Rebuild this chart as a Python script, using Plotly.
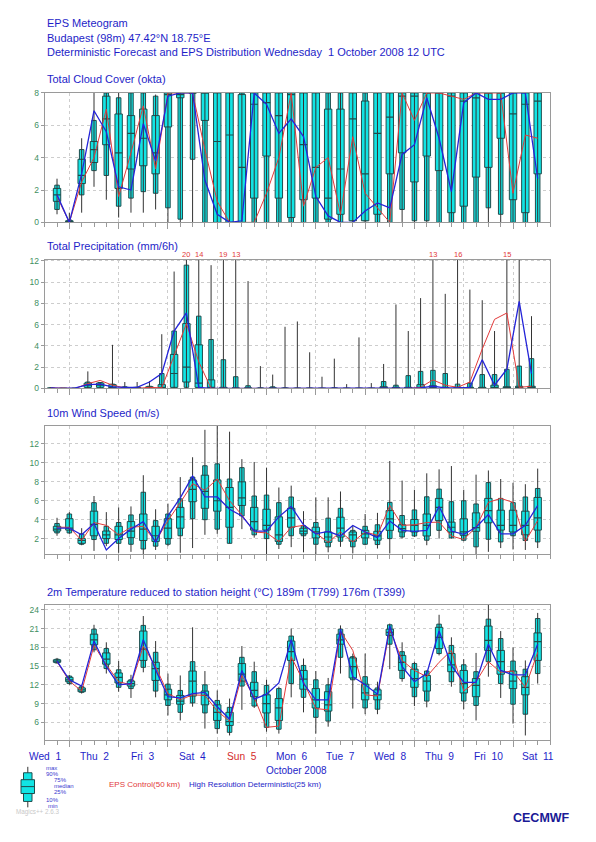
import numpy as np
import plotly.graph_objects as go

# figure fills the whole 596x842 page; body margin is removed after plotting
PAGE_W, PAGE_H = 596, 842
OX, OY = 0, 0
FW, FH = PAGE_W - 2 * OX, PAGE_H - 2 * OY

# ---------------- data ----------------
lead_h = [6 * k for k in range(1, 41)]          # hours after Wed 1 12 UTC
prec_h = [6 * k - 3 for k in range(1, 41)]      # centre of 6h accumulation

day_labels = ["Wed  1", "Thu  2", "Fri  3", "Sat  4", "Sun  5", "Mon  6",
              "Tue  7", "Wed  8", "Thu  9", "Fri  10", "Sat  11"]
day_hours = [24 * k for k in range(11)]
day_bounds = [12 + 24 * k for k in range(10)]

# Total cloud cover (okta)
cloud_min = [0.5, 0, 0.6, 2.2, 1.4, 0.3, 0.6, 0.6, 0.8, 0] + [0] * 30
cloud_p10 = [0.8, 0, 1.7, 3.2, 2.9, 1.0, 1.5, 1.9, 1.8, 0.9, 0.2, 3.9, 0, 0, 0, 0, 0, 0, 0, 0,
             0, 0, 0, 0, 0.1, 0.1, 0, 0, 0.8, 0.1, 0.1, 0, 0, 0, 0, 0.9, 0.5, 0, 0, 0]
cloud_p25 = [1.3, 0, 2.4, 3.7, 4.8, 2.1, 3.3, 3.5, 3.0, 5.9, 7.7, 8, 6.3, 0, 0, 0, 1.5, 4.1, 1.5, 0.3,
             1.4, 1.5, 0.2, 0.5, 0.1, 0.1, 0.5, 3.0, 4.3, 2.5, 4.1, 3.2, 0.6, 1.0, 2.8, 3.4, 5.2, 1.4, 0.6, 3.0]
cloud_med = [1.7, 0.05, 2.9, 4.5, 6.4, 4.3, 5.5, 5.2, 4.3, 7.9, 7.9, 8, 8, 5.0, 5.4, 3.4, 7.3, 7.4, 6.6, 7.9,
             4.8, 3.4, 1.5, 3.3, 6.4, 3.0, 5.5, 6.5, 7.8, 7.8, 8, 8, 7.8, 7.5, 7.7, 8, 8, 6.7, 7.3, 7.5]
cloud_p75 = [2.1, 0.1, 3.9, 5.0, 7.8, 6.7, 6.6, 7.0, 6.6, 8, 8, 8, 8, 8, 8, 7.9, 8, 8, 8, 8,
             8, 8, 7.0, 7.0, 8, 7.5, 8, 8, 8, 8, 8, 8, 8, 8, 8, 8, 8, 8, 8, 8]
cloud_p90 = [2.3, 0.15, 4.5, 6.3, 8, 7.7, 8, 8, 7.8] + [8] * 31
cloud_max = [2.7, 0.6, 5.2, 8, 8, 8, 8, 8, 7.9] + [8] * 31
cloud_det = [1.7, 0, 3.0, 6.9, 5.6, 2.2, 2.0, 6.1, 3.8, 7.8, 8, 8, 2.6, 0.5, 0, 0.1, 8, 7.3, 5.5, 6.4,
             5.3, 1.6, 0.4, 0, 0, 0.7, 1.2, 0.9, 4.2, 4.8, 7.7, 5.2, 1.9, 7.4, 8, 7.6, 7.6, 8, 8, 2.7]
cloud_ctl = [1.6, 0, 2.5, 4.0, 7.0, 1.6, 4.3, 7.2, 3.3, 8, 8, 8, 4.5, 1.3, 0, 0, 0, 1.8, 4.0, 8,
             1.0, 3.4, 4.0, 0.5, 5.3, 1.8, 0.9, 0, 8, 6.3, 8, 8, 7.8, 7.6, 8, 8, 8, 1.8, 5.4, 5.2]

# Total precipitation (mm/6h)
prec_min = [0] * 40
prec_p10 = [0] * 11 + [0.1] + [0] * 28
prec_p25 = [0, 0, 0, 0.1, 0.1, 0.05, 0, 0, 0, 0.05, 0.1, 0.6, 0.1, 0, 0, 0, 0, 0, 0, 0,
            0, 0, 0, 0, 0, 0, 0, 0.05, 0, 0, 0.05, 0.1, 0, 0, 0, 0, 0.05, 0.05, 0.05, 0.05]
prec_med = [0, 0, 0, 0.3, 0.3, 0.1, 0.05, 0.05, 0.1, 0.1, 1.4, 2.0, 0.5, 0.1, 0, 0, 0, 0, 0, 0,
            0, 0, 0, 0, 0, 0, 0, 0.1, 0.05, 0.05, 0.1, 0.15, 0.05, 0.05, 0.05, 0.05, 0.1, 0.1, 0.1, 0.1]
prec_p75 = [0.02, 0, 0, 0.5, 0.5, 0.35, 0.1, 0.1, 0.15, 0.35, 3.2, 6.1, 4.1, 0.8, 0.1, 0.05, 0.05, 0, 0.05, 0,
            0, 0, 0, 0, 0, 0, 0, 0.15, 0.1, 0.1, 0.35, 0.25, 0.1, 0.1, 0.1, 0.1, 0.3, 0.15, 0.2, 0.2]
prec_p90 = [0.05, 0, 0, 0.6, 0.55, 0.4, 0.15, 0.1, 0.2, 1.4, 5.4, 11.6, 6.8, 4.6, 2.7, 1.1, 0.25, 0.05, 0.15, 0.05,
            0.02, 0.02, 0, 0.05, 0, 0, 0, 0.65, 0.3, 1.2, 1.6, 1.7, 1.4, 0.4, 0.5, 1.3, 1.3, 1.8, 2.1, 2.8]
prec_max = [0.1, 0, 0.05, 1.6, 0.6, 4.1, 0.6, 0.6, 0.7, 5.1, 11.0, 20, 14, 11.6, 19, 13, 10.1, 2.1, 1.3, 5.8,
            6.3, 3.4, 1.1, 2.8, 0.4, 4.8, 0.5, 2.3, 7.9, 5.4, 8.5, 13, 8.9, 16, 9.3, 8.3, 5.4, 15, 12.1, 6.8]
prec_det = [0.05, 0, 0.05, 0.35, 0.4, 0.15, 0.1, 0.1, 0.6, 1.4, 5.4, 7.1, 0.1, 0, 0, 0, 0, 0, 0, 0,
            0, 0, 0, 0, 0, 0, 0, 0, 0, 0, 0.05, 0.2, 0.05, 0.05, 0.1, 2.7, 0.3, 1.8, 8.2, 1.4]
prec_ctl = [0.05, 0, 0, 0.45, 0.75, 0.3, 0.05, 0, 0.1, 0.05, 3.0, 6.1, 2.5, 0, 0, 0, 0, 0, 0, 0,
            0, 0, 0, 0, 0, 0, 0, 0, 0, 0, 0.1, 0.8, 0.3, 0.1, 0.6, 3.7, 6.5, 7.1, 0.1, 0.2]

# 10m wind speed (m/s)
wind_min = [2.3, 2.5, 1.3, 0.7, 1.2, 0.5, 0.6, 0.2, 0.8, 1.2, 0.5, 1.0, 2.4, 2.5, 1.5, 3.0, 2.1, 0.3, 0.9, 1.1,
            0.55, 0.26, 0.55, 1.13, 0.43, 1.3, 0.95, 0.43, 2.0, 2.17, 1.3, 2.0, 2.0, 1.72, 0.26, 0.6, 1.0, 0.85, 0.8, 1.0]
wind_p10 = [2.6, 2.6, 1.4, 1.9, 1.5, 1.5, 1.4, 0.9, 1.2, 1.4, 2.3, 4.1, 4.0, 3.0, 1.5, 4.4, 2.4, 2.0, 1.4, 2.3,
            2.3, 1.4, 1.13, 1.72, 1.13, 1.4, 1.37, 2.0, 2.17, 2.28, 1.83, 2.87, 2.07, 1.83, 1.13, 1.93, 1.65, 2.3, 1.8, 1.65]
wind_p25 = [2.8, 2.9, 1.5, 2.3, 2.0, 1.9, 2.1, 1.8, 1.7, 2.0, 3.1, 5.9, 5.2, 4.9, 3.2, 5.5, 2.9, 2.9, 1.7, 3.2,
            2.5, 2.07, 1.6, 2.17, 1.72, 2.07, 1.83, 2.87, 2.7, 2.7, 2.28, 3.9, 2.7, 2.35, 2.77, 3.67, 2.9, 2.7, 2.4, 2.9]
wind_med = [3.0, 3.1, 1.8, 3.5, 2.4, 2.4, 2.8, 3.0, 2.3, 3.1, 4.3, 7.2, 7.0, 6.0, 5.3, 6.3, 3.8, 3.4, 2.4, 4.2,
            2.8, 2.7, 2.17, 3.1, 2.4, 2.5, 2.28, 4.09, 3.05, 3.39, 3.39, 5.3, 3.2, 2.7, 3.15, 4.96, 3.4, 3.4, 3.4, 4.2]
wind_p75 = [3.3, 4.1, 2.0, 4.9, 2.8, 3.3, 3.8, 4.6, 3.3, 4.1, 5.3, 8.2, 8.7, 8.2, 7.4, 8.0, 5.3, 5.1, 4.3, 5.2,
            3.1, 3.2, 2.7, 4.26, 2.7, 2.87, 2.77, 4.96, 3.46, 4.02, 4.6, 6.25, 3.74, 4.09, 4.72, 6.25, 5.0, 5.0, 4.9, 6.35]
wind_p90 = [3.6, 4.6, 2.5, 5.8, 3.3, 3.7, 4.5, 6.9, 3.9, 4.6, 6.2, 8.5, 9.7, 9.9, 8.3, 9.5, 6.5, 6.6, 5.8, 6.4,
            3.35, 3.7, 4.16, 5.2, 2.87, 3.3, 3.46, 5.83, 4.44, 5.03, 6.42, 7.23, 5.9, 6.0, 5.66, 7.92, 6.25, 5.8, 6.4, 7.3]
wind_max = [4.2, 4.8, 3.1, 6.5, 4.8, 5.3, 5.4, 8.7, 5.1, 5.7, 8.5, 10.6, 13.5, 14.2, 13.3, 10.4, 10.1, 9.5, 7.4, 7.6,
            4.9, 6.36, 6.36, 6.98, 3.39, 4.6, 4.72, 10.2, 8.13, 7.16, 8.9, 9.32, 9.67, 7.16, 8.76, 9.2, 8.3, 7.9, 7.75, 9.4]
wind_det = [3.1, 3.1, 2.4, 3.6, 0.8, 2.0, 3.0, 3.8, 1.6, 4.4, 6.3, 8.6, 6.4, 6.4, 5.1, 4.4, 2.8, 2.8, 4.3, 5.4,
            3.46, 2.5, 2.77, 2.28, 3.39, 2.7, 2.1, 3.85, 2.87, 2.77, 2.87, 5.4, 2.8, 2.45, 3.2, 4.55, 2.5, 2.5, 3.4, 5.5]
wind_ctl = [3.2, 3.2, 1.8, 3.7, 3.4, 2.4, 3.2, 3.3, 1.7, 3.9, 5.8, 7.8, 7.1, 8.3, 6.0, 4.5, 2.7, 2.6, 1.7, 3.2,
            3.4, 2.6, 1.6, 2.7, 1.65, 2.7, 2.35, 5.5, 3.4, 3.46, 3.7, 3.74, 2.28, 1.9, 3.2, 5.83, 6.25, 5.83, 1.72, 3.9]

# 2m temperature (deg C)
temp_min = [15.4, 12.0, 10.6, 17.2, 13.8, 10.9, 9.9, 14.0, 10.0, 7.1, 6.3, 8.5, 5.0, 4.2, 3.9, 8.0, 8.3, 4.5, 4.2, 10.0,
            7.6, 4.2, 5.3, 13.8, 8.2, 7.3, 7.3, 14.5, 12.5, 8.6, 8.4, 16.7, 11.7, 8.1, 6.3, 13.3, 9.9, 5.8, 3.9, 12.2]
temp_p10 = [15.5, 12.2, 10.8, 17.6, 14.6, 11.6, 11.4, 14.8, 11.0, 8.7, 7.6, 9.1, 7.5, 5.0, 4.4, 11.8, 8.6, 5.2, 4.9, 12.2,
            10.0, 6.8, 6.2, 16.4, 12.8, 8.3, 8.1, 18.5, 13.0, 10.1, 9.4, 17.0, 12.5, 9.4, 8.7, 15.7, 12.2, 8.9, 7.3, 13.8]
temp_p25 = [15.6, 12.5, 10.9, 18.4, 15.3, 12.3, 11.8, 15.9, 12.7, 9.6, 8.9, 10.2, 8.8, 6.3, 5.5, 12.6, 10.1, 7.5, 6.3, 15.9,
            11.3, 8.3, 7.8, 18.5, 13.1, 9.6, 9.6, 19.9, 14.3, 11.6, 11.0, 17.8, 14.1, 10.7, 10.1, 17.5, 13.7, 11.4, 10.4, 15.9]
temp_med = [15.8, 12.8, 11.2, 19.2, 16.1, 13.2, 12.2, 17.7, 14.6, 10.4, 9.4, 12.6, 10.3, 7.6, 6.1, 13.7, 11.1, 9.0, 8.3, 17.3,
            12.9, 9.6, 8.8, 19.2, 14.9, 10.7, 10.4, 20.4, 15.6, 13.0, 12.6, 19.6, 15.2, 12.2, 11.9, 19.1, 15.7, 12.6, 11.6, 18.9]
temp_p75 = [16.0, 13.2, 11.5, 20.1, 17.1, 13.9, 12.6, 20.6, 15.6, 11.3, 10.3, 14.2, 11.0, 8.8, 7.6, 15.4, 12.4, 10.4, 9.8, 19.0,
            14.3, 11.4, 10.9, 20.1, 16.3, 12.1, 11.2, 20.9, 16.7, 14.5, 13.5, 21.2, 17.0, 14.3, 13.0, 21.4, 17.5, 14.2, 13.3, 20.3]
temp_p90 = [16.1, 13.4, 11.7, 20.9, 17.8, 14.4, 12.8, 21.5, 17.2, 12.1, 11.1, 15.7, 12.0, 9.5, 8.4, 16.4, 14.1, 11.9, 11.4, 19.8,
            15.1, 12.8, 12.0, 20.9, 16.5, 13.3, 11.5, 21.6, 17.3, 15.4, 14.2, 21.7, 18.3, 15.2, 14.1, 22.5, 19.4, 15.8, 14.5, 22.6]
temp_max = [16.3, 13.6, 11.8, 21.6, 18.8, 15.8, 13.6, 23.0, 19.0, 13.8, 13.5, 21.2, 14.2, 11.1, 9.8, 18.2, 15.7, 12.8, 11.7, 21.0,
            16.2, 14.2, 13.1, 21.5, 17.0, 17.0, 12.5, 21.8, 18.8, 15.7, 14.3, 23.2, 19.6, 16.1, 17.1, 24.8, 20.6, 18.0, 15.9, 23.5]
temp_det = [15.8, 12.8, 11.8, 19.0, 14.9, 12.0, 12.2, 19.2, 14.4, 10.1, 9.9, 10.6, 10.8, 8.5, 6.5, 14.3, 9.7, 10.5, 12.3, 19.2,
            12.2, 9.6, 9.6, 20.9, 13.3, 12.0, 10.5, 21.4, 14.9, 12.5, 13.8, 20.6, 15.1, 12.4, 12.4, 18.5, 14.3, 13.6, 13.6, 18.5]
temp_ctl = [15.7, 12.6, 11.0, 18.3, 15.2, 12.5, 12.0, 18.2, 14.9, 10.6, 9.6, 10.4, 10.3, 7.8, 6.2, 13.5, 10.0, 5.2, 5.4, 16.5,
            12.5, 8.2, 8.0, 20.6, 17.5, 10.4, 10.2, 20.9, 15.9, 14.3, 13.3, 15.6, 17.5, 11.0, 12.5, 15.7, 14.0, 14.2, 11.6, 17.2]

# ---------------- styles ----------------
FONT = "Liberation Sans, Arial, sans-serif"
TITLE_BLUE = "#1e1ec8"
TICK_GREEN = "#3f8f5f"
CYAN = "#12e4e4"
EDGE = "#1f4c4c"
WHISK = "#333333"
GRID = "#cdcdcd"
FRAME = "#9a9a9a"
DET_BLUE = "#2424d8"
CTL_RED = "#e23a3a"
NARROW_W = 2.2   # hours
WIDE_W = 3.6     # hours


def px_x(x):
    return (x - OX) / FW


def px_y(y):
    return 1 - (y - OY) / FH


panels = [
    dict(t=lead_h, lo=cloud_min, p10=cloud_p10, p25=cloud_p25, med=cloud_med, p75=cloud_p75,
         p90=cloud_p90, hi=cloud_max, det=cloud_det, ctl=cloud_ctl,
         px=(89, 220), rng=[0, 8], ticks=[0, 2, 4, 6, 8]),
    dict(t=prec_h, lo=prec_min, p10=prec_p10, p25=prec_p25, med=prec_med, p75=prec_p75,
         p90=prec_p90, hi=prec_max, det=prec_det, ctl=prec_ctl,
         px=(257.7, 388), rng=[0, 12.12], ticks=[0, 2, 4, 6, 8, 10, 12]),
    dict(t=lead_h, lo=wind_min, p10=wind_p10, p25=wind_p25, med=wind_med, p75=wind_p75,
         p90=wind_p90, hi=wind_max, det=wind_det, ctl=wind_ctl,
         px=(425.7, 556), rng=[0.33, 13.94], ticks=[2, 4, 6, 8, 10, 12]),
    dict(t=lead_h, lo=temp_min, p10=temp_p10, p25=temp_p25, med=temp_med, p75=temp_p75,
         p90=temp_p90, hi=temp_max, det=temp_det, ctl=temp_ctl,
         px=(607, 744.3), rng=[3.1, 24.8], ticks=[6, 9, 12, 15, 18, 21, 24]),
]

fig = go.Figure()
layout = dict(width=FW, height=FH, margin=dict(l=0, r=0, t=0, b=0),
              paper_bgcolor="white", plot_bgcolor="white", showlegend=False,
              barmode="overlay", font=dict(family=FONT))

xdom = [px_x(44.7), px_x(550)]
for k, p in enumerate(panels, start=1):
    sfx = "" if k == 1 else str(k)
    xa, ya = "x" + sfx, "y" + sfx
    t = np.array(p["t"], dtype=float)
    lo, hi = np.array(p["lo"]), np.array(p["hi"])
    p10, p25, p75, p90 = (np.array(p[n]) for n in ("p10", "p25", "p75", "p90"))
    wx, wy = [], []
    for ti, a, b in zip(t, lo, hi):
        wx += [ti, ti, None]
        wy += [a, b, None]
    fig.add_trace(go.Scatter(x=wx, y=wy, mode="lines", line=dict(color=WHISK, width=1),
                             xaxis=xa, yaxis=ya, hoverinfo="skip"))
    fig.add_trace(go.Bar(x=t, y=p90 - p10, base=p10, width=NARROW_W,
                         marker=dict(color=CYAN, line=dict(color=EDGE, width=1)),
                         xaxis=xa, yaxis=ya))
    fig.add_trace(go.Bar(x=t, y=p75 - p25, base=p25, width=WIDE_W,
                         marker=dict(color=CYAN, line=dict(color=EDGE, width=1)),
                         xaxis=xa, yaxis=ya))
    fig.add_trace(go.Scatter(x=t, y=p["med"], mode="markers",
                             marker=dict(symbol="line-ew", size=5.3,
                                         line=dict(color=EDGE, width=1.2)),
                             xaxis=xa, yaxis=ya))
    fig.add_trace(go.Scatter(x=t, y=p["ctl"], mode="lines", line=dict(color=CTL_RED, width=1),
                             xaxis=xa, yaxis=ya))
    fig.add_trace(go.Scatter(x=t, y=p["det"], mode="lines", line=dict(color=DET_BLUE, width=1.3),
                             xaxis=xa, yaxis=ya))

    top, bot = p["px"]
    layout["xaxis" + sfx] = dict(
        domain=xdom, range=[0, 246], anchor=ya, tickmode="array", tickvals=day_bounds,
        showticklabels=False, ticks="outside", ticklen=6, tickcolor=FRAME,
        showgrid=True, gridcolor=GRID, griddash="dot", gridwidth=1,
        showline=True, mirror=True, linecolor=FRAME, linewidth=1, zeroline=False,
        minor=dict(tickmode="linear", tick0=0, dtick=6, ticks="outside", ticklen=4,
                   tickcolor=FRAME, showgrid=False))
    layout["yaxis" + sfx] = dict(
        domain=[px_y(bot), px_y(top)], range=p["rng"], anchor=xa,
        tickmode="array", tickvals=p["ticks"], ticks="outside", ticklen=3, tickcolor=FRAME,
        tickfont=dict(size=8.5, color=TICK_GREEN, family=FONT),
        showgrid=True, gridcolor=GRID, griddash="dot", gridwidth=1,
        showline=True, mirror=True, linecolor=FRAME, linewidth=1, zeroline=False)

fig.update_layout(**layout)

annotations = []


def txt(x, y, text, size=11, color=TITLE_BLUE, anchor="left", bold=False):
    annotations.append(dict(x=px_x(x), y=px_y(y), xref="paper", yref="paper",
                            text=("<b>%s</b>" % text) if bold else text, showarrow=False,
                            xanchor=anchor, yanchor="middle",
                            font=dict(size=size, color=color, family=FONT)))


txt(45, 18, "EPS Meteogram")
txt(45, 33, "Budapest (98m) 47.42°N 18.75°E")
txt(45, 47.5, "Deterministic Forecast and EPS Distribution Wednesday\u00a0\u00a01 October 2008 12 UTC")
txt(45, 75, "Total Cloud Cover (okta)")
txt(45, 244.3, "Total Precipitation (mm/6h)")
txt(45, 412.7, "10m Wind Speed (m/s)")
txt(45, 594.3, "2m Temperature reduced to station height (°C) 189m (T799) 176m (T399)")

# precipitation values beyond the axis top
for th, mx in zip(prec_h, prec_max):
    if mx > 12.5:
        annotations.append(dict(x=th, y=px_y(252.7), xref="x2", yref="paper",
                                text=str(int(round(mx))), showarrow=False,
                                xanchor="center", yanchor="middle",
                                font=dict(size=7.5, color=CTL_RED, family=FONT)))

# day labels
for dh, lab in zip(day_hours, day_labels):
    col = "#d42a2a" if lab.startswith("Sun") else TITLE_BLUE
    annotations.append(dict(x=dh, y=px_y(760.7), xref="x4", yref="paper",
                            text=lab.replace(" ", "\u00a0"), showarrow=False,
                            xanchor="center", yanchor="middle",
                            font=dict(size=10.2, color=col, family=FONT)))

txt(296, 775, "October 2008", size=10, anchor="center")
txt(107, 789, "EPS Control(50 km)", size=8, color=CTL_RED)
txt(186.5, 789, "High Resolution Deterministic(25 km)", size=8)

# box legend labels
for (lx, ly, lt) in [(44, 772, "max"), (43.5, 778, "90%"), (52, 784.5, "75%"),
                     (52, 790.5, "median"), (52, 796.5, "25%"), (43.5, 804.5, "10%"),
                     (46, 810.5, "min")]:
    txt(lx, ly, lt, size=6, color="#3a3ad0")
txt(14, 817, "Magics++ 2.6.3", size=6.3, color="#c9c9c9")
txt(511, 823, "CECMWF", size=12.5, color="#1a1a96", bold=True)

# box legend glyph
shapes = []


def rect(x0, y0, x1, y1):
    shapes.append(dict(type="rect", xref="paper", yref="paper", x0=px_x(x0), x1=px_x(x1),
                       y0=px_y(y1), y1=px_y(y0), fillcolor=CYAN,
                       line=dict(color=EDGE, width=1)))


shapes.append(dict(type="line", xref="paper", yref="paper", x0=px_x(27.8), x1=px_x(27.8),
                   y0=px_y(812), y1=px_y(771), line=dict(color=WHISK, width=1)))
rect(23.5, 777, 32, 806)
rect(21, 784, 34.5, 798)
shapes.append(dict(type="line", xref="paper", yref="paper", x0=px_x(21), x1=px_x(34.5),
                   y0=px_y(791), y1=px_y(791), line=dict(color=EDGE, width=1)))

fig.update_layout(annotations=annotations, shapes=shapes)
fig.write_html(
    "out.html",
    config={"displayModeBar": False, "staticPlot": True},
    post_script=("document.body.style.margin='0';"
                 "document.body.style.overflow='hidden';"
                 "document.documentElement.style.overflow='hidden';"))
